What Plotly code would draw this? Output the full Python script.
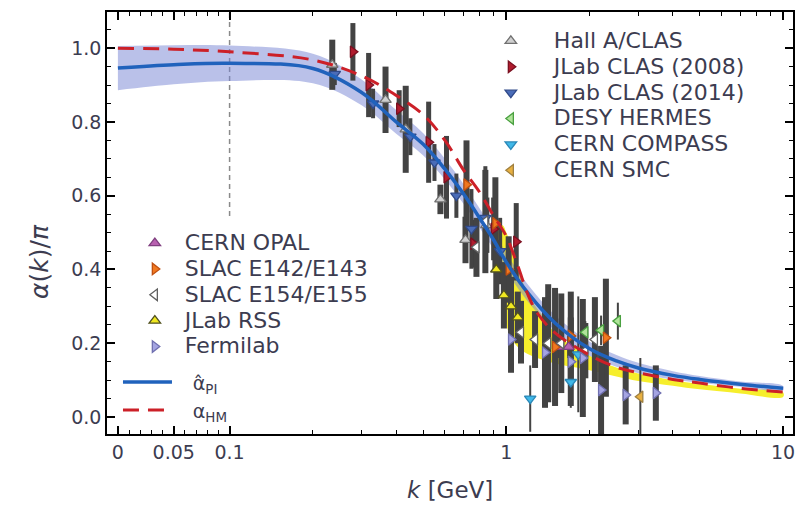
import numpy as np
import plotly.graph_objects as go

# ---------------- curves ----------------
# effective coupling alpha_PI (solid) with its uncertainty band
pi_k = [0, 0.05, 0.1, 0.2, 0.3, 0.4, 0.5, 0.6, 0.7, 0.8, 0.9, 1.0, 1.2, 1.5, 2.0, 2.5, 3.0, 4.0, 5.0, 7.0, 10.0]
pi_val = [0.946, 0.955, 0.959, 0.945, 0.88, 0.80, 0.74, 0.672, 0.605, 0.54, 0.48, 0.42, 0.335, 0.255, 0.185, 0.152, 0.133, 0.113, 0.102, 0.089, 0.078]
pi_lo = [0.886, 0.902, 0.911, 0.905, 0.845, 0.768, 0.71, 0.644, 0.578, 0.514, 0.455, 0.396, 0.312, 0.234, 0.166, 0.136, 0.119, 0.102, 0.093, 0.082, 0.072]
pi_hi = [1.006, 1.008, 1.007, 0.985, 0.915, 0.832, 0.77, 0.700, 0.632, 0.566, 0.505, 0.444, 0.358, 0.276, 0.204, 0.168, 0.147, 0.124, 0.111, 0.096, 0.084]

# alpha_HM (dashed)
hm_k = [0, 0.05, 0.1, 0.2, 0.3, 0.4, 0.5, 0.6, 0.7, 0.8, 0.9, 1.0, 1.1, 1.2, 1.3, 1.5, 2.0, 2.5, 3.0, 4.0, 5.0, 7.0, 10.0]
hm_val = [1.0, 0.997, 0.99, 0.968, 0.925, 0.872, 0.82, 0.75, 0.67, 0.61, 0.545, 0.49, 0.41, 0.33, 0.28, 0.228, 0.168, 0.135, 0.12, 0.102, 0.092, 0.078, 0.068]

# yellow band
ye_k = [0.9, 0.97, 1.0, 1.05, 1.1, 1.2, 1.35, 1.5, 2.0, 2.5, 3.0, 4.0, 5.0, 7.0, 10.0]
ye_hi = [0.52, 0.52, 0.50, 0.46, 0.41, 0.33, 0.275, 0.228, 0.166, 0.134, 0.118, 0.100, 0.090, 0.077, 0.067]
ye_lo = [0.48, 0.35, 0.25, 0.21, 0.19, 0.17, 0.155, 0.145, 0.127, 0.110, 0.098, 0.085, 0.075, 0.064, 0.054]

# ---------------- data sets ----------------
halla_k = [0.235, 0.366, 0.433, 0.578, 0.712, 0.847]
halla_y = [0.955, 0.86, 0.78, 0.59, 0.48, 0.52]
halla_e = [0.068, 0.09, 0.118, 0.04, 0.063, 0.075]

clas08_k = [0.279, 0.318, 0.41, 0.524, 0.608, 0.76, 0.90, 1.086]
clas08_y = [0.99, 0.90, 0.836, 0.745, 0.65, 0.47, 0.51, 0.475]
clas08_e = [0.078, 0.087, 0.05, 0.11, 0.112, 0.065, 0.085, 0.105]

clas14_k = [0.24, 0.33, 0.45, 0.55, 0.66, 0.748, 0.84, 0.95]
clas14_y = [0.93, 0.85, 0.76, 0.69, 0.60, 0.51, 0.54, 0.45]
clas14_e = [0.03, 0.04, 0.05, 0.05, 0.06, 0.108, 0.14, 0.09]

hermes_k = [1.93, 2.2, 2.53]
hermes_y = [0.23, 0.235, 0.26]
hermes_e = [0.03, 0.04, 0.05]

compass_k = [1.22, 1.71, 1.82]
compass_y = [0.05, 0.095, 0.17]
compass_e = [0.09, 0.07, 0.157]

smc_k = [3.05]
smc_y = [0.055]
smc_e = [0.105]

opal_k = [1.54, 1.68]
opal_y = [0.19, 0.19]
opal_e = [0.03, 0.03]

e143_k = [0.718, 0.913, 1.02, 1.5, 1.71, 2.29]
e143_y = [0.63, 0.525, 0.40, 0.19, 0.22, 0.215]
e143_e = [0.12, 0.125, 0.09, 0.16, 0.12, 0.16]

e155_k = [0.78, 0.84, 1.13, 1.27, 1.417, 1.58, 1.93, 2.09]
e155_y = [0.46, 0.53, 0.23, 0.21, 0.20, 0.20, 0.18, 0.21]
e155_e = [0.08, 0.14, 0.085, 0.077, 0.16, 0.135, 0.075, 0.115]

rss_k = [0.92, 0.98, 1.04, 1.1]
rss_y = [0.40, 0.33, 0.30, 0.27]
rss_e = [0.08, 0.09, 0.08, 0.07]

fermi_k = [1.04, 1.38, 1.71, 1.89, 2.2, 2.7, 3.47]
fermi_y = [0.21, 0.175, 0.15, 0.16, 0.073, 0.06, 0.065]
fermi_e = [0.09, 0.15, 0.12, 0.16, 0.12, 0.08, 0.075]

# tick labels
x_major = [0, 0.05, 0.1, 1, 10]
x_major_text = ["0", "0.05", "0.1", "1", "10"]
x_minor = [0.01, 0.02, 0.03, 0.04, 0.06, 0.07, 0.08, 0.09,
           0.2, 0.3, 0.4, 0.5, 0.6, 0.7, 0.8, 0.9,
           2, 3, 4, 5, 6, 7, 8, 9]
k_mark = 0.1

# axis mapping: linear on [0, 0.1], log10 above 0.1
LIN_SPAN = 0.4036


def kpos(k):
    k = np.asarray(k, dtype=float)
    return np.where(k >= 0.1, np.log10(np.maximum(k, 0.1)),
                    -1.0 - (0.1 - k) / 0.1 * LIN_SPAN)


FONT = "DejaVu Sans"
TXT = "#3c3c50"
BAR = "#434343"

fig = go.Figure()

# yellow band
fig.add_trace(go.Scatter(
    x=np.concatenate([kpos(ye_k), kpos(ye_k[::-1])]),
    y=ye_hi + ye_lo[::-1], fill="toself", fillcolor="#f6ee2c",
    line=dict(width=0, shape="spline"), mode="lines", hoverinfo="skip", showlegend=False))

# alpha_PI band
fig.add_trace(go.Scatter(
    x=np.concatenate([kpos(pi_k), kpos(pi_k[::-1])]),
    y=pi_hi + pi_lo[::-1], fill="toself", fillcolor="rgba(118,132,212,0.5)",
    line=dict(width=0, shape="spline"), mode="lines", hoverinfo="skip", showlegend=False))

datasets = [
    ("Hall A/CLAS", halla_k, halla_y, halla_e, "triangle-up", "#cfcfcf", "#707070", 6, "legend"),
    ("JLab CLAS (2008)", clas08_k, clas08_y, clas08_e, "triangle-right", "#b01c2e", "#7a1020", 5, "legend"),
    ("JLab CLAS (2014)", clas14_k, clas14_y, clas14_e, "triangle-down", "#4a6cb8", "#304a8a", 4, "legend"),
    ("DESY HERMES", hermes_k, hermes_y, hermes_e, "triangle-left", "#b0e49a", "#4aa040", 2, "legend"),
    ("CERN COMPASS", compass_k, compass_y, compass_e, "triangle-down", "#40b8e8", "#2a88b8", 2, "legend"),
    ("CERN SMC", smc_k, smc_y, smc_e, "triangle-left", "#e8b040", "#a08040", 2, "legend"),
    ("CERN OPAL", opal_k, opal_y, opal_e, "triangle-up", "#b860b0", "#804080", 3, "legend2"),
    ("SLAC E142/E143", e143_k, e143_y, e143_e, "triangle-right", "#f07820", "#c05010", 6, "legend2"),
    ("SLAC E154/E155", e155_k, e155_y, e155_e, "triangle-left", "#ffffff", "#606060", 6, "legend2"),
    ("JLab RSS", rss_k, rss_y, rss_e, "triangle-up", "#f0e820", "#505020", 6, "legend2"),
    ("Fermilab", fermi_k, fermi_y, fermi_e, "triangle-right", "#a4a4e2", "#7070b0", 6, "legend2"),
]

# error bars first, so every symbol sits on top of them
for name, ks, ys, es, sym, fc, lc, th, lg in datasets:
    fig.add_trace(go.Scatter(
        x=kpos(ks), y=ys, mode="markers", marker=dict(size=1, opacity=0),
        error_y=dict(type="data", array=es, color=BAR, thickness=th, width=0),
        hoverinfo="skip", showlegend=False))

for name, ks, ys, es, sym, fc, lc, th, lg in datasets:
    fig.add_trace(go.Scatter(
        x=kpos(ks), y=ys, mode="markers", legend=lg,
        name='<span style="font-size:22px">%s</span>' % name,
        marker=dict(symbol=sym, size=10, color=fc, line=dict(color=lc, width=1.3))))

# curves on top
fig.add_trace(go.Scatter(
    x=kpos(pi_k), y=pi_val, mode="lines", legend="legend3",
    name="\u2002\u00a0α\u0302<sub>PI</sub>",
    line=dict(color="#2062bc", width=3.5, shape="spline")))
fig.add_trace(go.Scatter(
    x=kpos(hm_k), y=hm_val, mode="lines", legend="legend3",
    name="\u2002\u00a0α<sub>HM</sub>",
    line=dict(color="#cc2028", width=3, dash="16px,9px", shape="spline")))

# dashed marker line at k = 0.1
fig.add_shape(type="line", xref="x", yref="y",
              x0=float(kpos(k_mark)), x1=float(kpos(k_mark)), y0=0.545, y1=1.098,
              line=dict(color="#8a8a8a", width=1.5, dash="5px,4px"), layer="below")

legend_common = dict(bgcolor="rgba(0,0,0,0)", borderwidth=0,
                     xanchor="left", yanchor="top", traceorder="normal")
fig.update_layout(
    width=799, height=505,
    margin=dict(l=107, r=4, t=12, b=71),
    paper_bgcolor="white", plot_bgcolor="white",
    font=dict(family=FONT, color=TXT),
    legend=dict(x=0.526, y=0.974, itemwidth=76,
                font=dict(family=FONT, size=17.6, color=TXT), **legend_common),
    legend2=dict(x=0.026, y=0.495, itemwidth=50,
                 font=dict(family=FONT, size=17.6, color=TXT), **legend_common),
    legend3=dict(x=0.0160, y=0.168, itemwidth=49,
                 font=dict(family=FONT, size=19.2, color=TXT), **legend_common),
    xaxis=dict(range=[-1.443, 1.036], tickmode="array",
               tickvals=kpos(x_major), ticktext=x_major_text,
               ticks="inside", ticklen=8, tickwidth=1.5, tickcolor="black",
               showline=True, linecolor="black", linewidth=1.5, mirror="ticks",
               showgrid=False, zeroline=False,
               tickfont=dict(family=FONT, size=19, color=TXT),
               minor=dict(tickmode="array", tickvals=kpos(x_minor), ticks="inside",
                          ticklen=4, tickwidth=1.2, tickcolor="black", showgrid=False)),
    yaxis=dict(range=[-0.046, 1.098], tick0=0, dtick=0.2, tickformat=".1f",
               ticks="inside", ticklen=8, tickwidth=1.5, tickcolor="black",
               showline=True, linecolor="black", linewidth=1.5, mirror="ticks",
               showgrid=False, zeroline=False,
               tickfont=dict(family=FONT, size=19, color=TXT),
               minor=dict(dtick=0.05, ticks="inside", ticklen=4, tickwidth=1.2,
                          tickcolor="black", showgrid=False)),
    annotations=[
        dict(text="<i>k</i> [GeV]", xref="paper", yref="paper", x=0.5, y=-0.1327,
             xanchor="center", yanchor="middle", showarrow=False,
             font=dict(family=FONT, size=23, color=TXT)),
        dict(text="<i>α</i>(<i>k</i>)/<i>π</i>", xref="paper", yref="paper",
             x=-0.0974, y=0.408, xanchor="center", yanchor="middle", showarrow=False,
             textangle=-90, font=dict(family=FONT, size=25, color=TXT)),
    ],
)

fig.write_html("out.html")
